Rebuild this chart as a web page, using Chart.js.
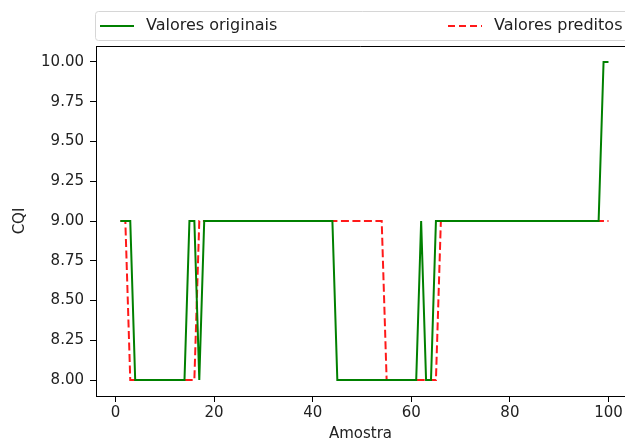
<!DOCTYPE html>
<html>
<head>
<meta charset="utf-8">
<script src="https://cdn.jsdelivr.net/npm/chart.js@4/dist/chart.umd.min.js"></script>
<style>
  html, body { margin: 0; padding: 0; background: #fff; overflow: hidden; }
</style>
</head>
<body>
<canvas id="cqiChart" width="625" height="443"></canvas>
<script>
// Data
const seriesLabels = ['Valores originais', 'Valores preditos'];

const originais = [
    9, 9, 9, 8, 8, 8, 8, 8, 8, 8,
    8, 8, 8, 8, 9, 9, 8, 9, 9, 9,
    9, 9, 9, 9, 9, 9, 9, 9, 9, 9,
    9, 9, 9, 9, 9, 9, 9, 9, 9, 9,
    9, 9, 9, 9, 8, 8, 8, 8, 8, 8,
    8, 8, 8, 8, 8, 8, 8, 8, 8, 8,
    8, 9, 8, 8, 9, 9, 9, 9, 9, 9,
    9, 9, 9, 9, 9, 9, 9, 9, 9, 9,
    9, 9, 9, 9, 9, 9, 9, 9, 9, 9,
    9, 9, 9, 9, 9, 9, 9, 9, 10, 10
];

const preditos = [
    9, 9, 8, 8, 8, 8, 8, 8, 8, 8,
    8, 8, 8, 8, 8, 8, 9, 9, 9, 9,
    9, 9, 9, 9, 9, 9, 9, 9, 9, 9,
    9, 9, 9, 9, 9, 9, 9, 9, 9, 9,
    9, 9, 9, 9, 9, 9, 9, 9, 9, 9,
    9, 9, 9, 9, 8, 8, 8, 8, 8, 8,
    8, 8, 8, 8, 8, 9, 9, 9, 9, 9,
    9, 9, 9, 9, 9, 9, 9, 9, 9, 9,
    9, 9, 9, 9, 9, 9, 9, 9, 9, 9,
    9, 9, 9, 9, 9, 9, 9, 9, 9, 9
];

// sample numbers start at 1
const amostras = originais.map((_, i) => i + 1);

const xTicks = [0, 20, 40, 60, 80, 100];
const yTicks = [8.00, 8.25, 8.50, 8.75, 9.00, 9.25, 9.50, 9.75, 10.00];

const FONT = "'DejaVu Sans', sans-serif";
const TEXT = '#222222';

const toPoints = vals => vals.map((v, i) => ({ x: amostras[i], y: v }));

// box around the plot (the right side is cut off like in the original) and the legend
const framePlugin = {
    id: 'frame',
    afterDraw(chart) {
        const ctx = chart.ctx;
        const a = chart.chartArea;
        ctx.save();
        ctx.strokeStyle = '#000';
        ctx.lineWidth = 1;
        ctx.beginPath();
        ctx.moveTo(Math.round(a.left) + 0.5, Math.round(a.top) + 0.5);
        ctx.lineTo(chart.width, Math.round(a.top) + 0.5);
        ctx.stroke();

        // legend frame, open on the right
        const lx = 95.5, ly = 11.5, lh = 29, r = 3, rx = chart.width + 10;
        ctx.beginPath();
        ctx.moveTo(rx, ly);
        ctx.lineTo(lx + r, ly);
        ctx.arcTo(lx, ly, lx, ly + r, r);
        ctx.lineTo(lx, ly + lh - r);
        ctx.arcTo(lx, ly + lh, lx + r, ly + lh, r);
        ctx.lineTo(rx, ly + lh);
        ctx.fillStyle = 'rgba(255,255,255,0.8)';
        ctx.fill();
        ctx.strokeStyle = '#d6d6d6';
        ctx.stroke();

        const items = [
            { x0: 100, x1: 134, tx: 146 },
            { x0: 448, x1: 482, tx: 494 }
        ];
        const yMid = 26;
        chart.data.datasets.forEach((ds, i) => {
            const it = items[i];
            ctx.beginPath();
            ctx.setLineDash(ds.borderDash ? [7, 4] : []);
            ctx.strokeStyle = ds.borderColor;
            ctx.lineWidth = ds.borderWidth;
            ctx.moveTo(it.x0, yMid);
            ctx.lineTo(it.x1, yMid);
            ctx.stroke();
            ctx.setLineDash([]);
            ctx.fillStyle = TEXT;
            ctx.font = '16px ' + FONT;
            ctx.textBaseline = 'middle';
            ctx.textAlign = 'left';
            ctx.fillText(ds.label, it.tx, yMid);
        });
        ctx.restore();
    }
};

new Chart(document.getElementById('cqiChart'), {
    type: 'line',
    data: {
        datasets: [
            {
                label: seriesLabels[0],
                data: toPoints(originais),
                borderColor: 'green',
                borderWidth: 2,
                pointRadius: 0,
                tension: 0,
                fill: false
            },
            {
                label: seriesLabels[1],
                data: toPoints(preditos),
                borderColor: 'rgba(255, 0, 0, 0.9)',
                borderWidth: 2,
                borderDash: [8, 3.5],
                pointRadius: 0,
                tension: 0,
                fill: false
            }
        ]
    },
    options: {
        responsive: false,
        animation: false,
        devicePixelRatio: 1,
        layout: { padding: { top: 46, right: 0, left: 0, bottom: 0 } },
        plugins: {
            legend: { display: false },
            tooltip: { enabled: false }
        },
        scales: {
            x: {
                type: 'linear',
                min: -3.95,
                max: 103.35,
                afterBuildTicks: s => { s.ticks = xTicks.map(v => ({ value: v })); },
                afterFit: s => { s.height = 47; },
                ticks: {
                    color: TEXT,
                    font: { family: FONT, size: 15 },
                    padding: 2,
                    maxRotation: 0,
                    callback: v => v
                },
                grid: { display: true, drawOnChartArea: false, color: '#000', tickLength: 6 },
                border: { color: '#000' },
                title: {
                    display: true,
                    text: 'Amostra',
                    color: TEXT,
                    font: { family: FONT, size: 15 },
                    padding: { top: 3, bottom: 0 }
                }
            },
            y: {
                min: 7.9,
                max: 10.1,
                afterBuildTicks: s => { s.ticks = yTicks.map(v => ({ value: v })); },
                afterFit: s => { s.width = 96; },
                ticks: {
                    color: TEXT,
                    font: { family: FONT, size: 15 },
                    padding: 6,
                    callback: v => Number(v).toFixed(2)
                },
                grid: { display: true, drawOnChartArea: false, color: '#000', tickLength: 6 },
                border: { color: '#000' },
                title: {
                    display: true,
                    text: 'CQI',
                    color: TEXT,
                    font: { family: FONT, size: 15 },
                    padding: { top: 11, bottom: 0 }
                }
            }
        }
    },
    plugins: [framePlugin]
});
</script>
</body>
</html>
